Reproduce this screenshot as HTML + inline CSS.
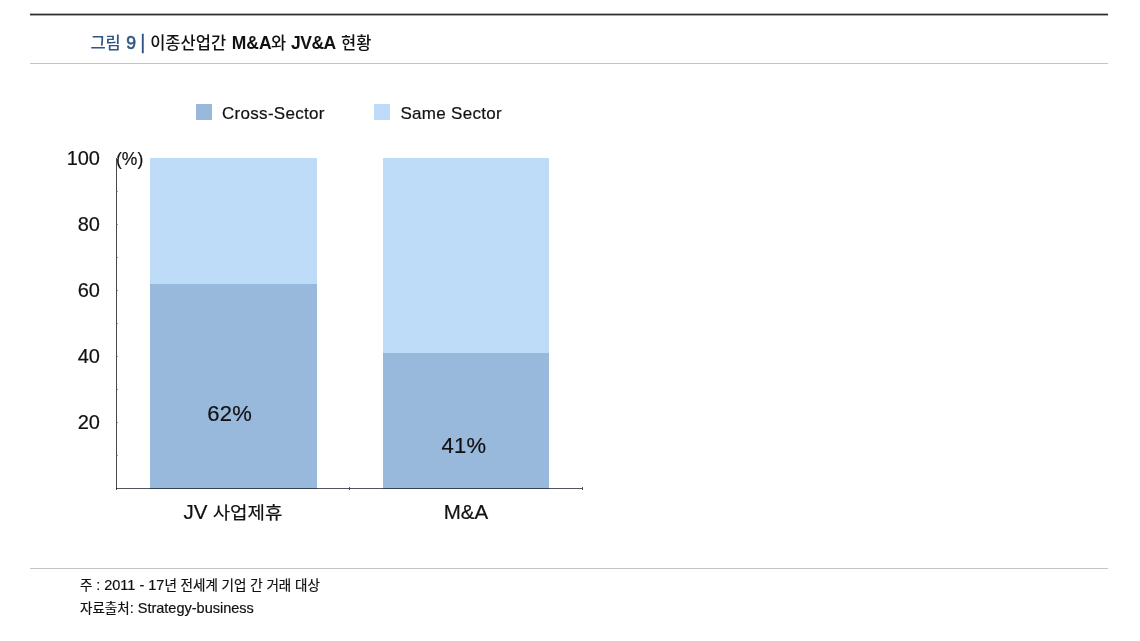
<!DOCTYPE html>
<html lang="ko">
<head>
<meta charset="utf-8">
<title>그림 9 | 이종산업간 M&amp;A와 JV&amp;A 현황</title>
<style>
html,body{margin:0;padding:0;background:#fff;}
body{width:1140px;height:641px;position:relative;overflow:hidden;font-family:"Liberation Sans","Noto Sans CJK KR",sans-serif;color:#111;}
.abs{position:absolute;white-space:nowrap;line-height:1;}
.hr{position:absolute;left:30px;width:1078px;}
#top{top:13px;height:3px;background:linear-gradient(to bottom,rgba(45,45,45,.36) 0,rgba(45,45,45,.36) 1px,rgba(45,45,45,1) 1px,rgba(45,45,45,1) 2px,rgba(45,45,45,.4) 2px,rgba(45,45,45,.4) 3px);}
#hr2{top:63px;height:1px;background:#c4c4c4;}
#hr3{top:568px;height:1px;background:#c4c4c4;}
#title{left:0;top:0;}
#title span{position:absolute;white-space:nowrap;line-height:1;}
.k{font-size:16.5px;font-weight:500;top:34.5px;}
.e{font-size:17.5px;font-weight:700;top:34.9px;}
.b{color:#2f5683;}
.sq{position:absolute;width:16px;height:16px;top:104px;}
.leg,.yl,.val,.xl,#pct,.foot{-webkit-text-stroke:0.2px #111;}
.leg{top:105px;font-size:17px;letter-spacing:0.3px;}
.yl{font-size:20px;width:100px;text-align:right;left:0;}
.bar{position:absolute;}
.dark{background:#99b9dc;}
.light{background:#bedcf8;}
.tick{position:absolute;background:#4c4c4c;}
.yt{left:117px;width:1px;height:1px;background:#999;}
.val{font-size:22px;letter-spacing:0.3px;}
.xl{font-size:19px;text-align:center;width:166px;}
.xl .e2{font-size:20.5px;}
.hk{display:inline-block;transform:scaleY(0.9);transform-origin:50% 52%;}
.foot{left:80px;font-size:13.5px;}
.foot .e3{font-size:14.5px;}
</style>
</head>
<body>
<div class="hr" id="top"></div>
<div id="title">
<span class="k b" style="left:90.4px">그림</span>
<span class="e b" style="left:126.3px;font-weight:400;-webkit-text-stroke:0.65px #2f5683">9</span>
<span class="e b" style="left:140.3px;font-weight:400;font-size:19.5px;top:32.6px;-webkit-text-stroke:0.3px #2f5683">|</span>
<span class="k" style="left:150.2px">이종산업간</span>
<span class="e" style="left:231.8px">M&amp;A</span>
<span class="k" style="left:271px">와</span>
<span class="e" style="left:291px;letter-spacing:-0.5px">JV&amp;A</span>
<span class="k" style="left:341px">현황</span>
</div>
<div class="hr" id="hr2"></div>

<div class="sq dark" style="left:196px"></div>
<div class="abs leg" style="left:222px">Cross-Sector</div>
<div class="sq light" style="left:374px"></div>
<div class="abs leg" style="left:400.4px">Same Sector</div>

<div class="abs yl" style="top:148.4px">100</div>
<div class="abs yl" style="top:214.4px">80</div>
<div class="abs yl" style="top:280.4px">60</div>
<div class="abs yl" style="top:346.4px">40</div>
<div class="abs yl" style="top:412.4px">20</div>
<div class="abs" id="pct" style="left:116px;top:151px;font-size:17.5px">(%)</div>

<div class="bar light" style="left:150px;top:158.4px;width:166.5px;height:126px"></div>
<div class="bar dark" style="left:150px;top:283.6px;width:166.5px;height:205px"></div>
<div class="bar light" style="left:383px;top:158.4px;width:166px;height:195px"></div>
<div class="bar dark" style="left:383px;top:352.8px;width:166px;height:136px"></div>

<div class="tick" id="yaxis" style="left:116px;top:158px;width:1px;height:332px"></div>
<div class="tick" id="xaxis" style="left:116px;top:488px;width:466.5px;height:1px;background:rgba(15,20,30,.72)"></div>
<div class="tick yt" style="top:454.8px"></div>
<div class="tick yt" style="top:421.8px"></div>
<div class="tick yt" style="top:388.8px"></div>
<div class="tick yt" style="top:355.9px"></div>
<div class="tick yt" style="top:322.9px"></div>
<div class="tick yt" style="top:290.0px"></div>
<div class="tick yt" style="top:257.0px"></div>
<div class="tick yt" style="top:224.1px"></div>
<div class="tick yt" style="top:191.1px"></div>
<div class="tick yt" style="top:158.2px"></div>
<div class="tick" style="left:349px;top:487px;width:1px;height:3px"></div>
<div class="tick" style="left:582px;top:487px;width:1px;height:3px"></div>

<div class="abs val" style="left:207.2px;top:403px">62%</div>
<div class="abs val" style="left:441.5px;top:434.7px">41%</div>
<div class="abs xl" style="left:150px;top:503px"><span class="e2" style="position:relative;top:-0.7px">JV</span> <span class="hk">사업제휴</span></div>
<div class="abs xl" style="left:383px;top:501.5px"><span class="e2">M&amp;A</span></div>

<div class="hr" id="hr3"></div>
<div class="abs foot" style="top:577.6px">주 <span class="e3">: 2011 - 17</span>년 전세계 기업 간 거래 대상</div>
<div class="abs foot" style="top:601.2px">자료출처<span class="e3">: Strategy-business</span></div>
</body>
</html>
